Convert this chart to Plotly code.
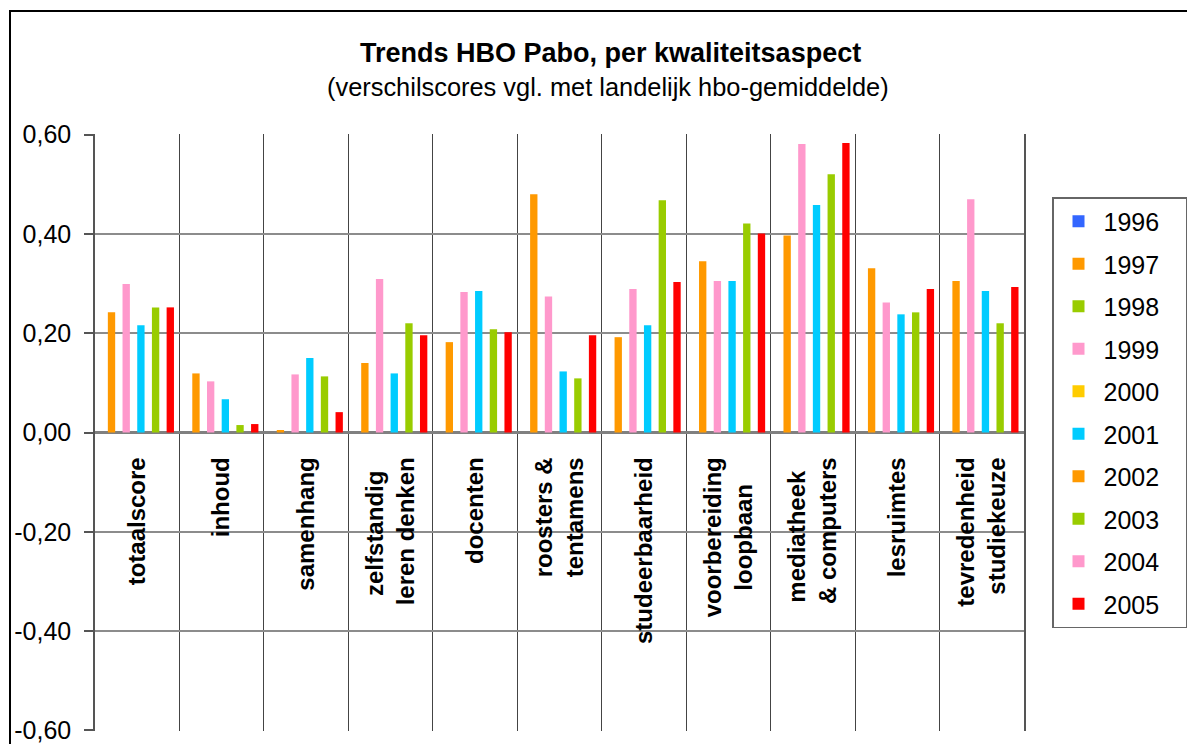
import plotly.graph_objects as go

categories = [
    "totaalscore", "inhoud", "samenhang", "zelfstandig<br>leren denken", "docenten",
    "roosters &<br>tentamens", "studeerbaarheid", "voorbereiding<br>loopbaan",
    "mediatheek<br>& computers", "lesruimtes", "tevredenheid<br>studiekeuze",
]
# tick labels as shown (non-breaking spaces centre the shorter line of two-line labels)
NB = "\u00a0"
tick_labels = [
    "totaalscore", "inhoud", "samenhang", "zelfstandig" + NB * 2 + "<br>leren denken", "docenten",
    "roosters &<br>tentamens", "studeerbaarheid", "voorbereiding<br>loopbaan" + NB * 4,
    "mediatheek" + NB * 2 + "<br>& computers", "lesruimtes", "tevredenheid<br>studiekeuze",
]

years = ["1996", "1997", "1998", "1999", "2000", "2001", "2002", "2003", "2004", "2005"]
colors = ["#3366FF", "#FF9900", "#99CC00", "#FF99CC", "#FFCC00",
          "#00CCFF", "#FF9900", "#99CC00", "#FF99CC", "#FF0000"]

N = None
v1996 = [N] * 11
v1997 = [0.242, 0.119, 0.005, 0.140, 0.182, 0.480, 0.192, 0.345, 0.397, 0.331, 0.305]
v1998 = [N] * 11
v1999 = [0.299, 0.103, 0.117, 0.309, 0.283, 0.274, 0.289, 0.305, 0.581, 0.262, 0.470]
v2000 = [N] * 11
v2001 = [0.216, 0.067, 0.150, 0.119, 0.285, 0.123, 0.216, 0.305, 0.458, 0.238, 0.285]
v2002 = [N] * 11
v2003 = [0.252, 0.015, 0.113, 0.220, 0.208, 0.109, 0.468, 0.421, 0.520, 0.242, 0.220]
v2004 = [N] * 11
v2005 = [0.252, 0.017, 0.041, 0.196, 0.202, 0.196, 0.303, 0.401, 0.583, 0.289, 0.293]

series = [v1996, v1997, v1998, v1999, v2000, v2001, v2002, v2003, v2004, v2005]

ytick_vals = [0.6, 0.4, 0.2, 0.0, -0.2, -0.4, -0.6]
ytick_text = ["0,60", "0,40", "0,20", "0,00", "-0,20", "-0,40", "-0,60"]

FONT = "Liberation Sans, Arial, sans-serif"

fig = go.Figure()
for yr, col, vals in zip(years, colors, series):
    fig.add_trace(go.Bar(
        x=categories, y=vals, name=yr + NB * 3,  # padding widens the legend box
        marker=dict(color=col, line=dict(width=0)),
        legendgroup=yr, hovertemplate=yr + ": %{y:.2f}<extra></extra>",
    ))

# page is drawn with an 8px offset; work in screenshot pixels
OFF = 8
W, H = 1195, 744
L, R, T, B = 95 - OFF, 1024 - OFF, 134 - OFF, 731 - OFF
pw, ph = R - L, B - T

def px(x):
    return (x - OFF - L) / pw

def py(y):
    return (B - (y - OFF)) / ph

fig.update_layout(
    width=W, height=H,
    margin=dict(l=L, r=W - R, t=T, b=H - B, pad=0, autoexpand=False),
    paper_bgcolor="white", plot_bgcolor="white",
    barmode="group", bargap=0.13, bargroupgap=0,
    font=dict(family=FONT, size=22, color="black"),
    legend=dict(
        x=px(1052), y=py(197), xanchor="left", yanchor="top",
        bgcolor="white", bordercolor="#666666", borderwidth=1.5,
        font=dict(family=FONT, size=25, color="black"),
        tracegroupgap=7, traceorder="grouped", itemwidth=40,
    ),
    xaxis=dict(
        type="category", anchor="free", position=0.5, automargin=False,
        tickmode="array", tickvals=categories, ticktext=tick_labels,
        tickson="boundaries", showgrid=True, gridcolor="#444444", gridwidth=1.3,
        ticks="", tickangle=-90, showline=False,
        tickfont=dict(family=FONT, size=24, color="black", weight="bold"),
        ticklabelstandoff=19,
    ),
    yaxis=dict(
        range=[-0.6012, 0.6012], tickvals=ytick_vals, ticktext=ytick_text, automargin=False,
        showgrid=True, gridcolor="#8c8c8c", gridwidth=1.8,
        zeroline=True, zerolinecolor="#808080", zerolinewidth=3,
        showline=True, linecolor="#555555", linewidth=1.5, mirror=True,
        ticks="outside", ticklen=9, tickcolor="#555555", tickwidth=1.5,
        tickfont=dict(family=FONT, size=25, color="black"),
        ticklabelstandoff=8,
    ),
    shapes=[dict(
        type="rect", xref="paper", yref="paper",
        x0=px(10), x1=px(1220), y0=py(780), y1=py(11),
        line=dict(color="black", width=2), fillcolor="rgba(0,0,0,0)", layer="below",
    )],
    annotations=[
        dict(text="<b>Trends HBO Pabo, per kwaliteitsaspect</b>", xref="paper", yref="paper",
             x=px(610), y=py(53), xanchor="center", yanchor="middle", showarrow=False,
             font=dict(family=FONT, size=27, color="black")),
        dict(text="(verschilscores vgl. met landelijk hbo-gemiddelde)", xref="paper", yref="paper",
             x=px(608), y=py(87), xanchor="center", yanchor="middle", showarrow=False,
             font=dict(family=FONT, size=25.4, color="black")),
    ],
)

fig.write_html("out.html")
